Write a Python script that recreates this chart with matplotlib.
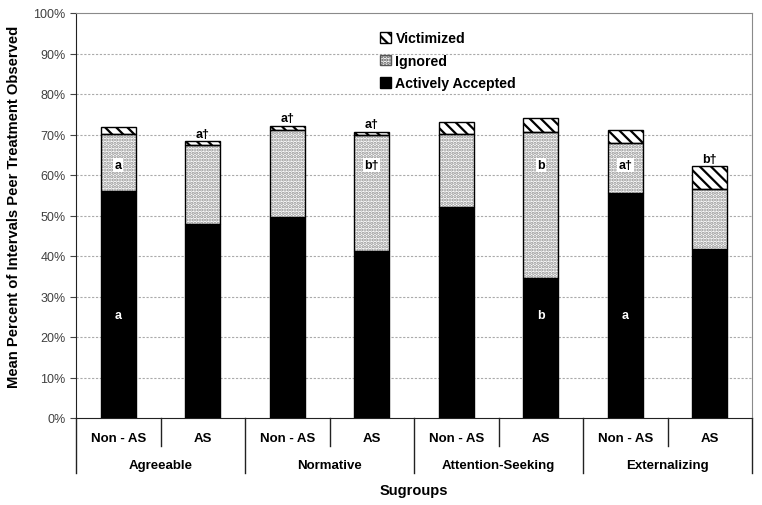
"""Stacked bars: peer treatment observed by subgroup (AS vs Non-AS)."""
import matplotlib
matplotlib.use("Agg")
import matplotlib.pyplot as plt
from matplotlib.patches import Patch
from matplotlib.transforms import blended_transform_factory

plt.rcParams["font.family"] = ["Liberation Sans", "DejaVu Sans"]
plt.rcParams["hatch.linewidth"] = 1.6

groups = ["Agreeable", "Normative", "Attention-Seeking", "Externalizing"]
subgroups = ["Non - AS", "AS"] * 4

# segment heights (percent)
accepted = [56.0, 48.0, 49.6, 41.2, 52.1, 34.6, 55.5, 41.7]
ignored = [14.1, 19.5, 21.6, 28.7, 18.0, 35.9, 12.5, 14.8]
victimized = [1.7, 0.8, 1.0, 0.7, 3.0, 3.6, 3.1, 5.6]

# significance marks
accepted_marks = ["a", "", "", "", "", "b", "a", ""]
ignored_marks = ["a", "", "", "b†", "", "b", "a†", ""]
top_marks = ["", "a†", "a†", "a†", "", "", "", "b†"]

fig = plt.figure(figsize=(7.62, 5.06), dpi=100)
ax = fig.add_axes([76 / 762, 87 / 506, 676 / 762, 405 / 506])

x = list(range(len(accepted)))
w = 0.41
ign_bottom = accepted
vic_bottom = [a + i for a, i in zip(accepted, ignored)]
tops = [b + v for b, v in zip(vic_bottom, victimized)]

ax.bar(x, accepted, w, color="black", edgecolor="black", lw=1, zorder=3)
ax.bar(x, ignored, w, bottom=ign_bottom, color="white", edgecolor="#8f8f8f",
       hatch=".....", lw=0, zorder=3)
ax.bar(x, ignored, w, bottom=ign_bottom, fill=False, edgecolor="black", lw=1, zorder=4)
ax.bar(x, victimized, w, bottom=vic_bottom, color="white", edgecolor="black",
       hatch="\\\\\\", lw=1, zorder=3)

for i in x:
    if accepted_marks[i]:
        ax.text(i, 25.5, accepted_marks[i], color="white", ha="center", va="center",
                fontsize=9, fontweight="bold", zorder=5)
    if ignored_marks[i]:
        ax.text(i, 62.5, ignored_marks[i], color="black", ha="center", va="center",
                fontsize=9, fontweight="bold", zorder=5,
                bbox=dict(facecolor="white", edgecolor="none", pad=1.0))
    if top_marks[i]:
        ax.text(i, tops[i] + 0.4, top_marks[i], color="black", ha="center",
                va="bottom", fontsize=9, fontweight="bold", zorder=5)

ax.set_xlim(-0.5, 7.5)
ax.set_ylim(0, 100)
ax.set_yticks(range(0, 101, 10))
ax.set_yticklabels([f"{v}%" for v in range(0, 101, 10)], fontsize=9, color="#404040")
ax.set_xticks([])
ax.tick_params(axis="y", length=4, width=0.8, color="#444444")
for v in range(10, 100, 10):
    ax.axhline(v, color="#aaaaaa", lw=0.8, ls=(0, (2, 1.5)), zorder=1)

for s in ["top", "right"]:
    ax.spines[s].set_color("#8a8a8a")
ax.spines["left"].set_color("#222222")
ax.spines["bottom"].set_color("#222222")

# two-level category axis
tr = blended_transform_factory(ax.transData, ax.transAxes)
short, long_ = -28 / 405, -55 / 405
for k in range(9):
    xb = k - 0.5
    y_end = long_ if k % 2 == 0 else short
    ax.plot([xb, xb], [0, y_end], color="#222222", lw=1, transform=tr, clip_on=False)
for i, lab in enumerate(subgroups):
    ax.text(i, -20 / 405, lab, transform=tr, ha="center", va="center",
            fontsize=9.5, fontweight="bold")
for g, lab in enumerate(groups):
    ax.text(2 * g + 0.5, -47 / 405, lab, transform=tr, ha="center", va="center",
            fontsize=9.5, fontweight="bold")

ax.text(3.5, -72 / 405, "Sugroups", transform=tr, ha="center", va="center",
        fontsize=10.5, fontweight="bold")
fig.text(14 / 762, 1 - 207 / 506, "Mean Percent of Intervals Peer Treatment Observed",
         rotation=90, ha="center", va="center", fontsize=10.6, fontweight="bold")

handles = [
    Patch(facecolor="white", edgecolor="black", hatch="\\\\\\", label="Victimized"),
    Patch(facecolor="white", edgecolor="#555555", hatch=".....", label="Ignored"),
    Patch(facecolor="black", edgecolor="black", label="Actively Accepted"),
]
leg = ax.legend(handles=handles, loc="upper left", bbox_to_anchor=(0.439, 0.972),
                frameon=False, handlelength=0.8, handleheight=0.8, handletextpad=0.3,
                labelspacing=0.6, borderpad=0,
                prop={"weight": "bold", "size": 10.2})

fig.savefig("out.png", dpi=100)
